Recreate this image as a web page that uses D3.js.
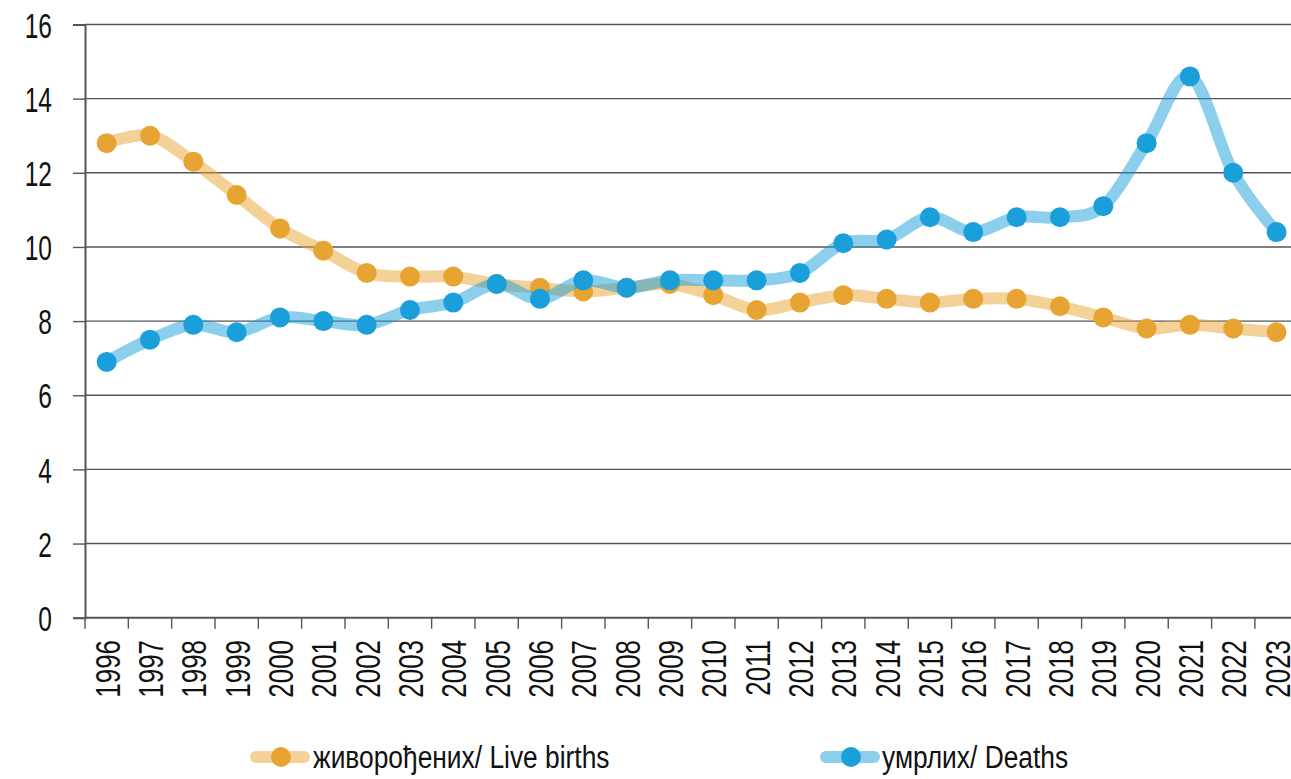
<!DOCTYPE html>
<html>
<head>
<meta charset="utf-8">
<script src="https://cdn.jsdelivr.net/npm/d3@7"></script>
<style>
  html, body { margin: 0; padding: 0; background: #fff; overflow: hidden; }
  svg { display: block; }
  text { font-family: "Liberation Sans", Arial, sans-serif; fill: #111; }
</style>
</head>
<body>
<svg id="chart" width="1291" height="779"></svg>
<script>
const years = ["1996","1997","1998","1999","2000","2001","2002","2003","2004","2005","2006","2007","2008","2009","2010","2011","2012","2013","2014","2015","2016","2017","2018","2019","2020","2021","2022","2023"];
const liveBirths = [12.8,13.0,12.3,11.4,10.5,9.9,9.3,9.2,9.2,9.0,8.9,8.8,8.9,9.0,8.7,8.3,8.5,8.7,8.6,8.5,8.6,8.6,8.4,8.1,7.8,7.9,7.8,7.7];
const deaths = [6.9,7.5,7.9,7.7,8.1,8.0,7.9,8.3,8.5,9.0,8.6,9.1,8.9,9.1,9.1,9.1,9.3,10.1,10.2,10.8,10.4,10.8,10.8,11.1,12.8,14.6,12.0,10.4];
const yTicks = [0,2,4,6,8,10,12,14,16];
const seriesNames = ["живорођених/ Live births", "умрлих/ Deaths"];
const seriesColors = ["#E8A433", "#1A9FDA"];

(function () {
const svg = d3.select("#chart");
const plotLeft = 85, plotTop = 24.5, plotBottom = 617.7, band = 43.33;
const plotRight = plotLeft + band * years.length;

const x = d3.scaleBand().domain(years).range([plotLeft, plotRight]);
const y = d3.scaleLinear().domain([0, 16]).range([plotBottom, plotTop]);

// condense text horizontally (reference uses a condensed face)
function condense(sel, factor) {
  sel.each(function () {
    const L = this.getComputedTextLength();
    d3.select(this).attr("textLength", L * factor).attr("lengthAdjust", "spacingAndGlyphs");
  });
}

// gridlines
svg.append("g").selectAll("line").data(yTicks.filter(d => d > 0)).join("line")
  .attr("x1", plotLeft).attr("x2", 1291)
  .attr("y1", d => y(d)).attr("y2", d => y(d))
  .attr("stroke", "#555").attr("stroke-width", 1.4);

// y axis
const yAxis = svg.append("g").attr("transform", `translate(${plotLeft},0)`)
  .call(d3.axisLeft(y).tickValues(yTicks).tickSize(12).tickPadding(21).tickFormat(d3.format("d")));
yAxis.select(".domain").attr("stroke", "#555").attr("stroke-width", 2);
yAxis.selectAll(".tick line").attr("stroke", "#555").attr("stroke-width", 1.4);
yAxis.selectAll(".tick text").attr("font-size", 35).attr("fill", "#111")
  .attr("font-family", '"Liberation Sans", Arial, sans-serif').attr("dy", "0.36em");
condense(yAxis.selectAll(".tick text"), 0.7);

// x axis
svg.append("line").attr("x1", plotLeft).attr("x2", 1291).attr("y1", plotBottom).attr("y2", plotBottom)
  .attr("stroke", "#555").attr("stroke-width", 2);
svg.append("g").selectAll("line").data(years).join("line")
  .attr("x1", d => x(d)).attr("x2", d => x(d))
  .attr("y1", plotBottom).attr("y2", plotBottom + 11)
  .attr("stroke", "#555").attr("stroke-width", 1.4);
const xl = svg.append("g").selectAll("text").data(years).join("text")
  .attr("transform", d => `translate(${x(d) + x.bandwidth() / 2 + 0.5},640) rotate(-90)`)
  .attr("text-anchor", "end").attr("dy", "0.36em")
  .attr("font-size", 35)
  .text(d => d);
condense(xl, 0.74);

// series
const line = d3.line()
  .x((d, i) => x(years[i]) + x.bandwidth() / 2)
  .y(d => y(d))
  .curve(d3.curveCardinal.tension(0));

[liveBirths, deaths].forEach((vals, s) => {
  const g = svg.append("g");
  g.append("path").datum(vals)
    .attr("d", line)
    .attr("fill", "none")
    .attr("stroke", seriesColors[s])
    .attr("stroke-opacity", 0.5)
    .attr("stroke-width", 12)
    .attr("stroke-linejoin", "round");
  g.selectAll("circle").data(vals).join("circle")
    .attr("cx", (d, i) => x(years[i]) + x.bandwidth() / 2)
    .attr("cy", d => y(d))
    .attr("r", 10)
    .attr("fill", seriesColors[s]);
});

// legend
const legendItems = [
  { x0: 250, x1: 310, tx: 313 },
  { x0: 820, x1: 880, tx: 882 }
];
legendItems.forEach((it, s) => {
  const g = svg.append("g");
  g.append("line").attr("x1", it.x0 + 6).attr("x2", it.x1 - 6).attr("y1", 757).attr("y2", 757)
    .attr("stroke", seriesColors[s]).attr("stroke-opacity", 0.5)
    .attr("stroke-width", 12).attr("stroke-linecap", "round");
  g.append("circle").attr("cx", (it.x0 + it.x1) / 2 + 1).attr("cy", 757).attr("r", 10).attr("fill", seriesColors[s]);
  const t = g.append("text").attr("x", it.tx).attr("y", 757).attr("dy", "0.36em")
    .attr("font-size", 31).text(seriesNames[s]);
  condense(t, 0.85);
});
})();
</script>
</body>
</html>
